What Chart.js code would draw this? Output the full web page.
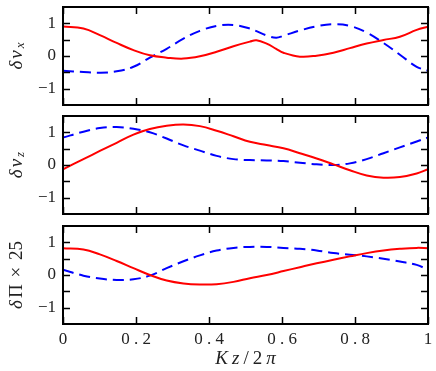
<!DOCTYPE html>
<html>
<head>
<meta charset="utf-8">
<script src="https://cdn.jsdelivr.net/npm/chart.js@4.4.1/dist/chart.umd.min.js"></script>
<style>
  html, body { margin: 0; padding: 0; background: #fff; }
  #wrap { position: relative; width: 436px; height: 371px; }
  #wrap canvas { position: absolute; left: 0; }
</style>
</head>
<body>
<div id="wrap">
  <canvas id="panelVx" width="436" height="110" style="top:0px"></canvas>
  <canvas id="panelVz" width="436" height="110" style="top:110px"></canvas>
  <canvas id="panelPi" width="436" height="151" style="top:220px"></canvas>
</div>
<script>
// Kz/2pi sample positions
const zVx = [0, 0.056, 0.101, 0.147, 0.193, 0.238, 0.284, 0.330, 0.375, 0.421, 0.467, 0.512, 0.530,
  0.558, 0.584, 0.604, 0.649, 0.695, 0.741, 0.786, 0.832, 0.878, 0.923, 0.969, 1.0];
const zGrid = [0, 0.056, 0.101, 0.147, 0.193, 0.238, 0.284, 0.330, 0.375, 0.421, 0.467, 0.512,
  0.558, 0.604, 0.649, 0.695, 0.741, 0.786, 0.832, 0.878, 0.923, 0.969, 1.0];

// delta v_x
const vxRed = [0.90, 0.84, 0.64, 0.40, 0.18, 0.02, -0.05, -0.08, -0.01, 0.13, 0.30, 0.44, 0.48,
  0.38, 0.22, 0.10, -0.02, 0.01, 0.10, 0.24, 0.38, 0.49, 0.59, 0.80, 0.90];
const vxBlue = [-0.45, -0.49, -0.51, -0.47, -0.33, -0.05, 0.22, 0.53, 0.77, 0.92, 0.95, 0.84, 0.76,
  0.63, 0.56, 0.62, 0.78, 0.91, 0.97, 0.92, 0.72, 0.40, 0.04, -0.33, -0.45];

// delta v_z
const vzRed = [-0.13, 0.18, 0.43, 0.68, 0.93, 1.10, 1.20, 1.24, 1.19, 1.05, 0.88, 0.71,
  0.61, 0.51, 0.36, 0.20, 0.02, -0.16, -0.32, -0.39, -0.37, -0.26, -0.13];
const vzBlue = [0.84, 1.02, 1.13, 1.16, 1.11, 1.00, 0.81, 0.60, 0.44, 0.28, 0.18, 0.15,
  0.14, 0.12, 0.07, 0.02, 0.00, 0.05, 0.18, 0.36, 0.54, 0.72, 0.84];

// delta Pi x 25
const piRed = [0.82, 0.78, 0.63, 0.43, 0.21, 0.00, -0.17, -0.26, -0.29, -0.28, -0.21, -0.10,
  0.00, 0.12, 0.24, 0.36, 0.47, 0.57, 0.67, 0.75, 0.80, 0.83, 0.82];
const piBlue = [0.16, -0.02, -0.11, -0.15, -0.13, -0.02, 0.21, 0.42, 0.60, 0.75, 0.83, 0.86,
  0.86, 0.83, 0.80, 0.75, 0.67, 0.62, 0.57, 0.50, 0.41, 0.31, 0.16];

const xTicks = [0, 0.2, 0.4, 0.6, 0.8, 1];
const yTicks = [-1, -0.5, 0, 0.5, 1];
const yLabelTicks = [-1, 0, 1];

const SERIF = '"Liberation Serif", "DejaVu Serif", serif';

function points(xs, ys) {
  return xs.map((x, i) => ({ x: x, y: ys[i] }));
}

// draws a list of [text, font, dy] pieces centred on (0,0) of the current transform
function drawPieces(ctx, pieces, gap) {
  let total = 0;
  pieces.forEach(p => { ctx.font = p[1]; total += ctx.measureText(p[0]).width + gap; });
  total -= gap;
  let cx = -total / 2;
  pieces.forEach(p => {
    ctx.font = p[1];
    ctx.fillText(p[0], cx, p[2] || 0);
    cx += ctx.measureText(p[0]).width + gap;
  });
}

// box frame with inward ticks, and the rotated y title
const framePlugin = {
  id: 'frame',
  afterDatasetsDraw(chart, args, opts) {
    const ctx = chart.ctx;
    const a = chart.chartArea;
    const xs = chart.scales.x, ys = chart.scales.y;
    ctx.save();
    ctx.strokeStyle = '#000';
    ctx.lineWidth = 1.5;
    ctx.beginPath();
    xTicks.forEach(v => {
      const px = Math.round(xs.getPixelForValue(v)) + 0.5;
      ctx.moveTo(px, a.top); ctx.lineTo(px, a.top + 7);
      ctx.moveTo(px, a.bottom); ctx.lineTo(px, a.bottom - 7);
    });
    yTicks.forEach(v => {
      const py = Math.round(ys.getPixelForValue(v)) + 0.5;
      ctx.moveTo(a.left, py); ctx.lineTo(a.left + 7, py);
      ctx.moveTo(a.right, py); ctx.lineTo(a.right - 7, py);
    });
    ctx.stroke();
    ctx.lineWidth = 2;
    ctx.strokeRect(a.left, a.top, a.right - a.left, a.bottom - a.top);

    // y title
    ctx.fillStyle = '#222';
    ctx.textBaseline = 'middle';
    ctx.textAlign = 'left';
    ctx.translate(17, (a.top + a.bottom) / 2);
    ctx.rotate(-Math.PI / 2);
    drawPieces(ctx, opts.title, 2);
    ctx.restore();

    if (opts.xTitle) {
      ctx.save();
      ctx.fillStyle = '#222';
      ctx.textBaseline = 'middle';
      ctx.textAlign = 'left';
      ctx.translate((a.left + a.right) / 2, a.bottom + 35);
      drawPieces(ctx, opts.xTitle, 4);
      ctx.restore();
    }
  }
};

function noPad(s) {
  s.paddingTop = 0; s.paddingBottom = 0; s.paddingLeft = 0; s.paddingRight = 0;
}

function makePanel(id, red, blue, xs, opts) {
  new Chart(document.getElementById(id), {
    type: 'line',
    data: {
      datasets: [
        { data: points(xs, red), borderColor: '#ff0000', borderWidth: 2, pointRadius: 0,
          tension: 0.4 },
        { data: points(xs, blue), borderColor: '#0000ff', borderWidth: 2, pointRadius: 0,
          borderDash: [11, 6], tension: 0.4 }
      ]
    },
    options: {
      responsive: false,
      animation: false,
      events: [],
      layout: { padding: { left: 0, right: 8, top: opts.top, bottom: opts.bottom } },
      plugins: {
        legend: { display: false },
        tooltip: { enabled: false },
        frame: { title: opts.title, xTitle: opts.xTitle }
      },
      scales: {
        x: {
          type: 'linear', min: 0, max: 1,
          display: !!opts.xLabels,
          grid: { display: false, drawTicks: false },
          border: { display: false },
          afterBuildTicks: s => { s.ticks = xTicks.map(v => ({ value: v })); },
          afterFit: s => { noPad(s); if (opts.xLabels) s.height = 47; },
          ticks: {
            padding: 5,
            color: '#222',
            font: { family: SERIF, size: 17 },
            callback: v => (v === 0 || v === 1) ? String(v) : String(v).split('').join(' ')
          }
        },
        y: {
          min: -1.5, max: 1.5,
          grid: { display: false, drawTicks: false },
          border: { display: false },
          afterBuildTicks: s => { s.ticks = yLabelTicks.map(v => ({ value: v })); },
          afterFit: s => { noPad(s); s.width = 63; },
          ticks: {
            padding: 7,
            color: '#222',
            font: { family: SERIF, size: 17 },
            callback: v => v < 0 ? '\u2212' + Math.abs(v) : String(v)
          }
        }
      }
    },
    plugins: [framePlugin]
  });
}

const IT = 'italic 19px ' + SERIF;
const RM = '19px ' + SERIF;
const SUB = 'italic 13px ' + SERIF;

makePanel('panelVx', vxRed, vxBlue, zVx, {
  top: 7, bottom: 5,
  title: [['\u03b4', IT, 0], ['v', IT, 0], ['x', SUB, 4]]
});
makePanel('panelVz', vzRed, vzBlue, zGrid, {
  top: 6, bottom: 6,
  title: [['\u03b4', IT, 0], ['v', IT, 0], ['z', SUB, 4]]
});
makePanel('panelPi', piRed, piBlue, zGrid, {
  top: 6, bottom: 0, xLabels: true,
  title: [['\u03b4', IT, 0], ['\u03a0', RM, 0], [' \u00d7 ', RM, 0], ['25', RM, 0]],
  xTitle: [['K', IT, 0], ['z', IT, 0], ['/', RM, 0], ['2', RM, 0], ['\u03c0', IT, 0]]
});
</script>
</body>
</html>
